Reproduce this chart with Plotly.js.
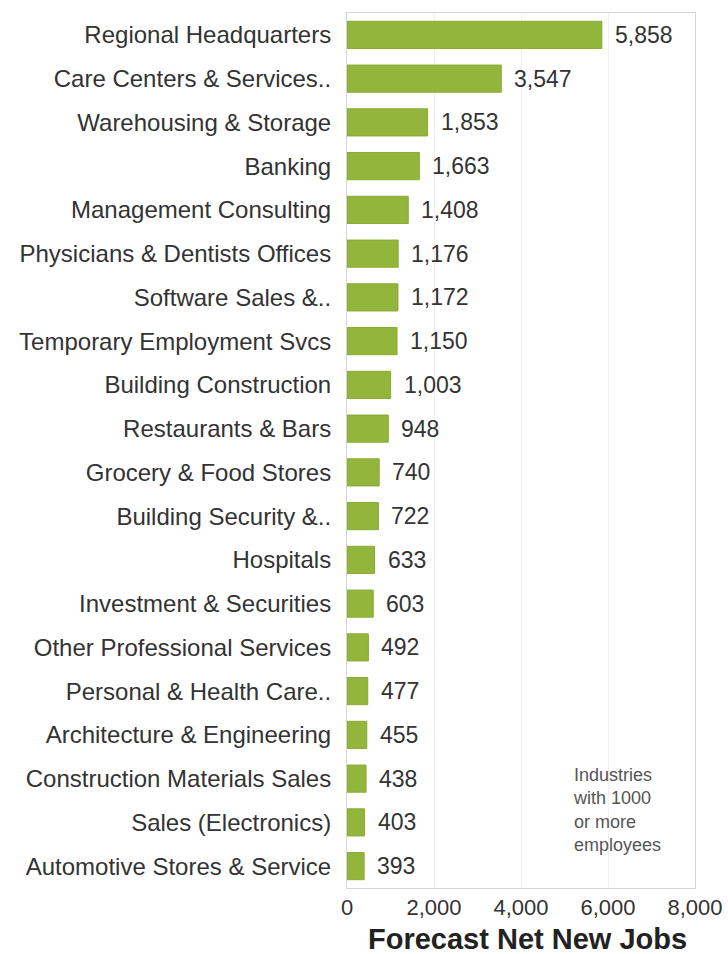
<!DOCTYPE html>
<html>
<head>
<meta charset="utf-8">
<script src="https://cdn.plot.ly/plotly-3.0.1.min.js"></script>
<style>html,body{margin:0;padding:0;background:#fff;}#chart{width:728px;height:954px;}</style>
</head>
<body>
<div id="chart"></div>
<script>
const industries = [
  "Regional Headquarters",
  "Care Centers & Services..",
  "Warehousing & Storage",
  "Banking",
  "Management Consulting",
  "Physicians & Dentists Offices",
  "Software Sales &..",
  "Temporary Employment Svcs",
  "Building Construction",
  "Restaurants & Bars",
  "Grocery & Food Stores",
  "Building Security &..",
  "Hospitals",
  "Investment & Securities",
  "Other Professional Services",
  "Personal & Health Care..",
  "Architecture & Engineering",
  "Construction Materials Sales",
  "Sales (Electronics)",
  "Automotive Stores & Service"
];
const jobs = [5858, 3547, 1853, 1663, 1408, 1176, 1172, 1150, 1003, 948, 740, 722, 633, 603, 492, 477, 455, 438, 403, 393];
const tickVals = [0, 2000, 4000, 6000, 8000];
const tickText = ["0", "2,000", "4,000", "6,000", "8,000"];
const noteText = "Industries<br>with 1000<br>or more<br>employees";
const axisTitle = "Forecast Net New Jobs";

const fmt = v => v.toLocaleString("en-US");
const FONT = "Liberation Sans, Arial, Helvetica, sans-serif";

const trace = {
  type: "bar",
  orientation: "h",
  y: industries,
  x: jobs,
  marker: {color: "#93b53c", line: {color: "#88aa33", width: 1}},
  width: 0.62,
  hoverinfo: "none"
};

const anns = jobs.map((v, i) => ({
  x: v, y: industries[i], xref: "x", yref: "y",
  text: fmt(v), showarrow: false, xanchor: "left", yanchor: "middle",
  xshift: 11, font: {family: FONT, size: 23, color: "#333"}
}));

anns.push({
  xref: "paper", yref: "paper", x: 0.643, y: 0.143,
  xanchor: "left", yanchor: "top", align: "left",
  text: noteText, showarrow: false,
  font: {family: FONT, size: 18, color: "#555"}
});

anns.push({
  xref: "paper", yref: "paper", x: 0.52, y: -0.058,
  xanchor: "center", yanchor: "middle",
  text: "<b>" + axisTitle + "</b>", showarrow: false,
  font: {family: FONT, size: 29, color: "#222"}
});

const layout = {
  width: 728, height: 954,
  margin: {l: 347, r: 33, t: 13, b: 66},
  paper_bgcolor: "#fff", plot_bgcolor: "#fff",
  showlegend: false,
  font: {family: FONT, color: "#333", size: 23},
  xaxis: {
    range: [0, 8000],
    tickvals: tickVals, ticktext: tickText,
    showgrid: true, gridcolor: "#f0f0f0",
    zeroline: false,
    showline: true, mirror: true, linecolor: "#d4d4d4", linewidth: 1,
    ticks: "", tickfont: {family: FONT, size: 22, color: "#333"}
  },
  yaxis: {
    autorange: "reversed",
    showline: true, mirror: true, linecolor: "#d4d4d4", linewidth: 1,
    showgrid: false, zeroline: false,
    ticks: "outside", ticklen: 10, tickcolor: "rgba(0,0,0,0)",
    tickfont: {family: FONT, size: 24, color: "#333"}
  },
  annotations: anns
};

Plotly.newPlot("chart", [trace], layout, {displayModeBar: false, staticPlot: true});
</script>
</body>
</html>
